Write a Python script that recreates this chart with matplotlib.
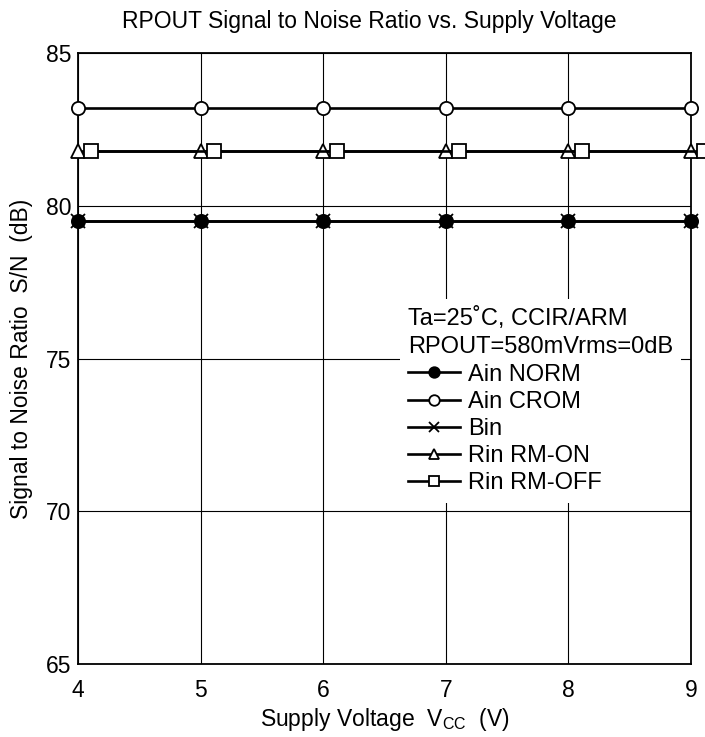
import matplotlib
matplotlib.use("Agg")
import matplotlib.pyplot as plt

plt.rcParams['font.family'] = ['Liberation Sans', 'DejaVu Sans']

vcc = [4, 5, 6, 7, 8, 9]
ain_norm = [79.5, 79.5, 79.5, 79.5, 79.5, 79.5]
ain_crom = [83.2, 83.2, 83.2, 83.2, 83.2, 83.2]
bin_ = [79.5, 79.5, 79.5, 79.5, 79.5, 79.5]
rin_on = [81.8, 81.8, 81.8, 81.8, 81.8, 81.8]
rin_off = [81.8, 81.8, 81.8, 81.8, 81.8, 81.8]
vcc_off = [4.11, 5.11, 6.11, 7.11, 8.11, 9.11]

fig = plt.figure(figsize=(7.05, 7.37), dpi=100)
ax = fig.add_axes([78/705, 1-664/737, (691-78)/705, (664-53)/737])

kw = dict(color='black', lw=1.9, ms=9.5, mew=1.3, clip_on=False, zorder=3)
l1, = ax.plot(vcc, ain_norm, marker='o', mfc='black', label='Ain NORM', **kw)
l2, = ax.plot(vcc, ain_crom, marker='o', mfc='white', label='Ain CROM', **kw)
l3, = ax.plot(vcc, bin_, marker='x', mfc='white', label='Bin', **kw)
l4, = ax.plot(vcc, rin_on, marker='^', mfc='white', label='Rin RM-ON', **kw)
l5, = ax.plot(vcc_off, rin_off, marker='s', mfc='white', label='Rin RM-OFF', **kw)

ax.set_xlim(4, 9)
ax.set_ylim(65, 85)
ax.set_xticks(vcc)
ax.set_yticks([65, 70, 75, 80, 85])
ax.tick_params(axis='both', length=0, labelsize=16.5)
ax.tick_params(axis='x', pad=11)
ax.tick_params(axis='y', pad=5)
ax.grid(True, color='black', lw=0.8)
ax.set_axisbelow(True)
for s in ax.spines.values():
    s.set_linewidth(1.3)

ax.set_title('RPOUT Signal to Noise Ratio vs. Supply Voltage', fontsize=16.5, pad=18, x=0.475)
ax.set_xlabel('Supply Voltage  V$_{\\mathregular{CC}}$  (V)', fontsize=16.5, labelpad=3)
ax.set_ylabel('Signal to Noise Ratio  S/N  (dB)', fontsize=16.5, labelpad=9)

leg = ax.legend(handles=[l1, l2, l3, l4, l5],
                title='Ta=25˚C, CCIR/ARM\nRPOUT=580mVrms=0dB',
                loc='upper left', bbox_to_anchor=(0.525, 0.597),
                fontsize=17, title_fontsize=17, frameon=True,
                handlelength=2.2, handletextpad=0.33, labelspacing=0.22,
                borderpad=0.35, borderaxespad=0, markerscale=0.8)
leg.get_title().set_linespacing(1.35)
leg.get_frame().set_facecolor('white')
leg.get_frame().set_edgecolor('none')
leg.get_frame().set_alpha(1)
leg._legend_box.align = 'left'
leg.set_zorder(5)

fig.savefig('out.png', dpi=100)
